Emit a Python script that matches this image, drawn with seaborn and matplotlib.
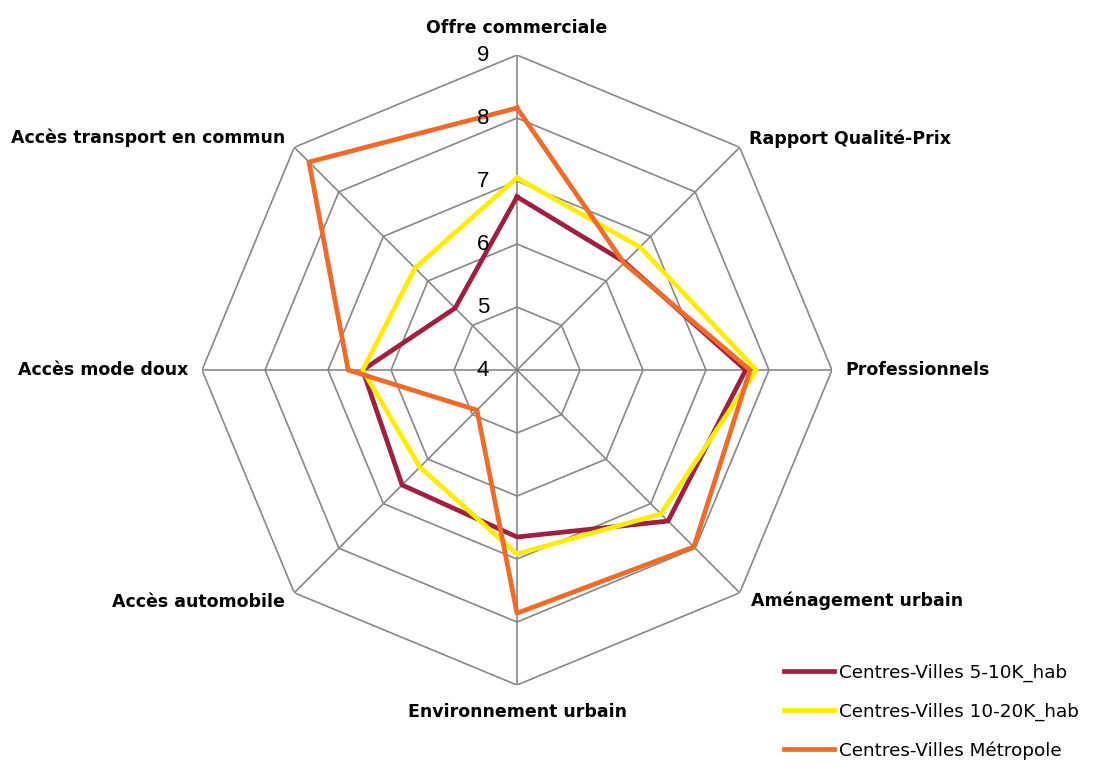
import numpy as np
import pandas as pd
import matplotlib.pyplot as plt
import seaborn as sns

# Données (échelle 4 -> 9)
criteres = ["Offre commerciale", "Rapport Qualité-Prix", "Professionnels",
            "Aménagement urbain", "Environnement urbain", "Accès automobile",
            "Accès mode doux", "Accès transport en commun"]
series = ["Centres-Villes 5-10K_hab", "Centres-Villes 10-20K_hab", "Centres-Villes Métropole"]
cv_5_10k = [6.75, 6.42, 7.63, 7.39, 6.65, 6.58, 6.45, 5.39]
cv_10_20k = [7.05, 6.76, 7.80, 7.23, 6.92, 6.18, 6.45, 6.29]
cv_metropole = [8.16, 6.40, 7.70, 7.97, 7.86, 4.90, 6.68, 8.67]
niveaux = [4, 5, 6, 7, 8, 9]
couleurs = ["#A01F40", "#FFEC00", "#F06A28"]
gris = "#878787"

n = len(criteres)
angles = np.linspace(0, 2 * np.pi, n + 1)

rows = []
for nom, vals in zip(series, [cv_5_10k, cv_10_20k, cv_metropole]):
    for a, v in zip(angles, vals + vals[:1]):
        rows.append({"angle": a, "note": v, "serie": nom})
df = pd.DataFrame(rows)

fig = plt.figure(figsize=(11.02, 7.69), dpi=100)
ax = fig.add_axes([0.1833, 0.1092, 0.5717, 0.8192], projection="polar")
ax.set_theta_zero_location("N")
ax.set_theta_direction(-1)

# grille octogonale
for v in niveaux[1:]:
    ax.plot(angles, [v] * (n + 1), color=gris, lw=1.2, zorder=1)

sns.lineplot(data=df, x="angle", y="note", hue="serie", palette=couleurs,
             sort=False, estimator=None, lw=3.4, ax=ax, legend=True, zorder=3)

ax.set_ylim(niveaux[0], niveaux[-1])
ax.set_xticks(angles[:-1])
ax.set_xticklabels([])
ax.set_yticks(niveaux)
ax.set_yticklabels([])
ax.yaxis.grid(False)
ax.xaxis.grid(True, color=gris, lw=1.2)
ax.spines["polar"].set_visible(False)
ax.set_xlabel("")
ax.set_ylabel("")

# valeurs de l'axe
for v in niveaux:
    ax.annotate(str(v), xy=(0, v), xytext=(-28, 0), textcoords="offset pixels",
                ha="right", va="center", fontsize=16, family="Liberation Sans",
                annotation_clip=False)

# libellés des critères
decalages = [(0, 27, "center"), (9, 9, "left"), (13, 0, "left"), (11, -8, "left"),
             (0, -27, "center"), (-9, -9, "right"), (-14, 0, "right"), (-9, 10, "right")]
for a, lab, (dx, dy, ha) in zip(angles[:-1], criteres, decalages):
    ax.annotate(lab, xy=(a, niveaux[-1]), xytext=(dx, dy), textcoords="offset pixels",
                ha=ha, va="center", fontsize=12.5, fontweight="bold", family="DejaVu Sans",
                annotation_clip=False)

handles, labels = ax.get_legend_handles_labels()
ax.legend_.remove()
leg = fig.legend(handles, labels, loc="upper left", bbox_to_anchor=(0.711, 0.137),
                 frameon=False, prop={"family": "DejaVu Sans", "size": 13.2},
                 handlelength=2.75, handletextpad=0.3, labelspacing=1.12,
                 borderpad=0, borderaxespad=0)
for h in leg.get_lines():
    h.set_linewidth(3.4)

fig.savefig("out.png", dpi=100)
